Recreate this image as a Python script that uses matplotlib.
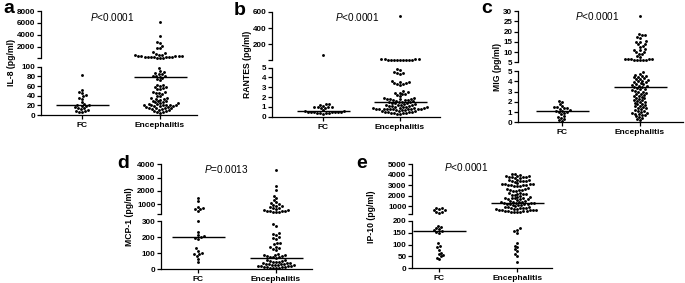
import matplotlib
matplotlib.use("Agg")
import matplotlib.pyplot as plt
import numpy as np

plt.rcParams['font.family'] = 'Liberation Sans'
plt.rcParams['mathtext.fontset'] = 'custom'
plt.rcParams['mathtext.it'] = 'Liberation Sans:italic'
plt.rcParams['mathtext.rm'] = 'Liberation Sans'

GROUPS = ['FC', 'Encephalitis']

# a: IL-8
IL8_FC = [83, 52, 48, 45, 41, 39, 36, 33, 26, 23, 21, 20, 19, 18, 16, 15, 14, 12, 11, 9, 8, 7, 6]
IL8_ENC = [6100, 3900, 2900, 2700, 2100, 1900, 1750, 1100, 950, 900,
           700, 640, 590, 545, 505, 470, 440, 410, 385, 360, 335, 310, 285, 260, 235,
           210, 185, 160,
           97, 91, 89, 86, 85, 84, 81, 80, 80, 79, 76, 74, 72, 63, 62, 61, 58, 57, 56,
           54, 53, 48, 47, 46, 45, 44, 40, 39, 36, 35, 34, 33, 32, 30, 29, 28, 27, 26,
           25, 24, 22.5, 22, 21.5, 21, 21, 20.5, 20, 20, 19.5, 19, 18.5,
           16.5, 16, 15.5, 15, 14, 13.5, 13, 12, 11, 10, 9, 8, 7, 6, 5]
# b: RANTES
RANTES_FC = [65, 1.3, 1.25, 1.2, 1.1, 1.0, 1.0, 0.95, 0.95, 0.9, 0.9, 0.7, 0.6, 0.55,
             0.5, 0.5, 0.48, 0.47, 0.45, 0.45, 0.43, 0.42, 0.4, 0.38, 0.35, 0.32]
RANTES_ENC = [550, 13, 12.5, 12, 11.5, 11, 10.5, 10, 9.5, 9, 8.5, 8.2, 8, 7.8,
              4.9, 4.8, 4.6, 4.5, 4.45, 4.4,
              3.6, 3.55, 3.5, 3.45, 3.4, 3.35, 3.3, 3.2,
              2.6, 2.5, 2.45, 2.4, 2.35, 2.3, 2.2, 2.1,
              1.9, 1.88, 1.85, 1.82, 1.8, 1.78, 1.75, 1.72, 1.7, 1.65,
              1.6, 1.55, 1.5, 1.48, 1.45, 1.42, 1.4, 1.35, 1.3,
              1.25, 1.22, 1.2, 1.18, 1.15, 1.12, 1.1, 1.05, 1.02, 1.0,
              0.98, 0.95, 0.92, 0.9, 0.88,
              0.84, 0.83, 0.82, 0.8, 0.8, 0.79, 0.78, 0.77, 0.76, 0.75, 0.74, 0.72, 0.7, 0.68,
              0.6, 0.58, 0.55, 0.52, 0.5, 0.48, 0.45, 0.42, 0.4, 0.38, 0.35, 0.32, 0.3]
# c: MIG
MIG_FC = [2.1, 2.0, 1.8, 1.6, 1.5, 1.45, 1.4, 1.35, 1.3, 1.2, 1.15, 1.1, 1.05, 1.0,
          0.9, 0.8, 0.6, 0.5, 0.4, 0.3, 0.2, 0.1]
MIG_ENC = [27.5, 18.6, 18.4, 18.2, 17.3, 17.0, 15.3, 15.1, 14.9, 14.0, 13.8, 12.8, 12.5,
           11.5, 11.2, 11.0, 10.2, 10.0, 9.2, 9.0, 8.0, 7.8, 6.6, 6.5, 6.5, 6.4, 6.4,
           6.3, 6.3, 6.2, 6.2, 6.1,
           4.9, 4.75, 4.65, 4.55, 4.5, 4.45, 4.4, 4.3, 4.25, 4.2, 4.1, 4.05, 4.0, 3.95,
           3.9, 3.8, 3.75, 3.7, 3.6, 3.55, 3.5, 3.45, 3.4, 3.3, 3.25, 3.2, 3.1, 3.05,
           3.0, 2.95, 2.9, 2.8, 2.75, 2.7, 2.6, 2.55, 2.5, 2.4, 2.35, 2.3, 2.2, 2.15,
           2.1, 2.0, 1.95, 1.9, 1.8, 1.75, 1.7, 1.6, 1.55, 1.5, 1.4, 1.35, 1.3, 1.2,
           1.15, 1.1, 1.0, 0.95, 0.9, 0.85, 0.8, 0.75, 0.7, 0.6, 0.5, 0.4, 0.3, 0.2]
# d: MCP-1
MCP_FC = [1500, 1250, 800, 750, 680, 620, 520, 300, 230, 210, 205, 200, 196, 190,
          130, 115, 100, 96, 92, 82, 65, 45]
MCP_ENC = [3550, 2350, 2050, 1600, 1450, 1350, 1200, 1100, 1000, 950, 900, 850, 800,
           750, 700, 650, 600, 560, 520, 500, 480, 460, 440, 420, 400,
           280, 270, 225, 220, 215, 200, 195, 190, 165, 160, 155, 140, 135, 130, 125,
           120, 95, 90, 88, 85, 82, 80, 78, 75, 72, 70,
           58, 55, 52, 49, 46, 44, 42, 40, 38, 36, 34, 32, 30, 28.5, 27, 25.5, 24,
           22.5, 21, 19.5, 18, 16.5, 15, 13.5, 12, 10.5, 9, 7.5, 6, 4.5]
# e: IP-10
IP10_FC = [850, 800, 750, 650, 600, 500, 450, 400, 178, 175, 168, 165, 160, 155, 152,
           150, 105, 95, 88, 78, 65, 60, 55, 50, 45, 38]
IP10_ENC = [4100, 4050, 4000,
            3900, 3850, 3850, 3800, 3800, 3780, 3750, 3720, 3700,
            3550, 3500, 3480, 3450, 3420, 3400, 3380, 3350,
            3200, 3150, 3120, 3100, 3080, 3050, 3020, 3000, 2980, 2950, 2920, 2900,
            2700, 2650, 2600, 2580, 2550, 2520, 2500, 2480,
            2300, 2250, 2200, 2180, 2150, 2100, 2050, 2000,
            1900, 1850, 1820, 1800, 1780, 1750, 1700, 1680, 1650, 1600,
            1500, 1480, 1450, 1420, 1400, 1380, 1350, 1320, 1300, 1280, 1250, 1220,
            1200, 1180, 1150, 1120, 1100,
            1000, 970, 940, 910, 880, 850, 820, 790, 760, 730, 700, 680, 660, 640, 620,
            600, 580, 560, 540, 520, 500, 480, 460, 440,
            168, 163, 155, 150, 105, 95, 88, 80, 72, 58, 52, 25]

MEDIANS = {'a': [20, 78], 'b': [0.6, 1.55], 'c': [1.15, 3.45], 'd': [200, 67], 'e': [155, 1300]}

W, H = 685, 283
DOT = 3.1  # dot spacing in pixels
fig = plt.figure(figsize=(W / 100, H / 100), dpi=100)


def rect(x0, x1, ytop, ybot):
    return [x0 / W, 1 - ybot / H, (x1 - x0) / W, (ybot - ytop) / H]


def swarm(ypix, d):
    # simple beeswarm: each point goes as close to the centre as it can
    xs = np.zeros(len(ypix))
    placed = []
    for i in np.argsort(ypix, kind='stable'):
        y = ypix[i]
        near = [(px, py) for px, py in placed if abs(py - y) < d]
        cands = [0.0]
        for px, py in near:
            dx = np.sqrt(d * d - (py - y) ** 2)
            cands += [px - dx, px + dx]
        cands.sort(key=abs)
        for c in cands:
            if all((c - px) ** 2 + (y - py) ** 2 >= d * d - 1e-6 for px, py in near):
                xs[i] = c
                break
        placed.append((xs[i], y))
    return xs


def style(ax, lower):
    for s in ['top', 'right']:
        ax.spines[s].set_visible(False)
    ax.spines['left'].set_linewidth(0.9)
    ax.spines['bottom'].set_linewidth(0.9)
    ax.tick_params(axis='y', length=3, width=0.9, pad=1, labelsize=5.8)
    if lower:
        ax.tick_params(axis='x', length=3, width=0.9, pad=2, labelsize=6)
    else:
        ax.spines['bottom'].set_visible(False)
        ax.set_xticks([])
    for t in ax.get_yticklabels() + ax.get_xticklabels():
        t.set_fontweight('bold')


def panel(letter, ylabel, ptext, fc, enc, x0, x1, xfc, xenc, up_box, lo_box,
          up_lim, lo_lim, up_ticks, up_labels, lo_ticks, lab_x, let_xy, p_xy):
    ppu = xenc - xfc
    xlim = ((x0 - xfc) / ppu, 1 + (x1 - xenc) / ppu)
    ax_u = fig.add_axes(rect(x0, x1, *up_box))
    ax_l = fig.add_axes(rect(x0, x1, *lo_box))
    ax_u.set_ylim(*up_lim)
    ax_l.set_ylim(*lo_lim)
    for ax in (ax_u, ax_l):
        ax.set_xlim(*xlim)
    ax_u.set_yticks(up_ticks)
    ax_u.set_yticklabels(up_labels)
    ax_l.set_yticks(lo_ticks)
    ax_l.set_xticks([0, 1])
    ax_l.set_xticklabels(GROUPS)
    style(ax_u, False)
    style(ax_l, True)

    for gi, vals in enumerate([fc, enc]):
        vals = np.asarray(vals, dtype=float)
        for ax, mask in ((ax_l, vals <= lo_lim[1]), (ax_u, vals > lo_lim[1])):
            v = vals[mask]
            if len(v) == 0:
                continue
            ypix = ax.transData.transform(np.column_stack([np.zeros(len(v)), v]))[:, 1]
            off = swarm(ypix, DOT)
            ax.scatter(gi + off / ppu, v, s=4.3, c='black', marker='o',
                       linewidths=0, clip_on=False, zorder=3)
        med = MEDIANS[letter][gi]
        ax = ax_l if med <= lo_lim[1] else ax_u
        hw = 26.5 / ppu
        ax.hlines(med, gi - hw, gi + hw, color='black', lw=1.0, zorder=4)

    ymid = (up_box[0] + lo_box[1]) / 2
    fig.text(lab_x / W, 1 - ymid / H, ylabel, rotation=90, ha='center', va='center',
             fontsize=6.2, fontweight='bold')
    fig.text(let_xy[0] / W, 1 - let_xy[1] / H, letter, ha='left', va='baseline',
             fontsize=14, fontweight='bold')
    fig.text(p_xy[0] / W, 1 - p_xy[1] / H, ptext, ha='center', va='center', fontsize=7.2)


panel('a', 'IL-8 (pg/ml)', r'$P$<0.0001', IL8_FC, IL8_ENC,
      41, 197, 82, 160, (11, 58.3), (66.7, 115), (100, 8000), (0, 100),
      [100, 2000, 4000, 6000, 8000], ['', '2000', '4000', '6000', '8000'],
      [0, 20, 40, 60, 80, 100], 12, (3, 13), (112, 17))

panel('b', 'RANTES (pg/ml)', r'$P$<0.0001', RANTES_FC, RANTES_ENC,
      272, 440, 323, 400, (12, 60), (67.7, 116.7), (5, 600), (0, 5),
      [5, 200, 400, 600], ['', '200', '400', '600'],
      [0, 1, 2, 3, 4, 5], 247, (234, 15), (357, 17))

panel('c', 'MIG (pg/ml)', r'$P$<0.0001', MIG_FC, MIG_ENC,
      518, 683, 562, 640, (11, 62.3), (71, 122.3), (5, 30), (0, 5),
      [5, 10, 15, 20, 25, 30], ['5', '10', '15', '20', '25', '30'],
      [0, 1, 2, 3, 4, 5], 497, (481, 13), (597, 16))

panel('d', 'MCP-1 (pg/ml)', r'$P$=0.0013', MCP_FC, MCP_ENC,
      161, 312, 198, 276, (164.3, 213.6), (221, 269), (300, 4000), (0, 300),
      [300, 1000, 2000, 3000, 4000], ['', '1000', '2000', '3000', '4000'],
      [0, 100, 200, 300], 130, (117, 168), (226, 169))

panel('e', 'IP-10 (pg/ml)', r'$P$<0.0001', IP10_FC, IP10_ENC,
      412, 552, 439.3, 517.3, (164.3, 213.6), (220.7, 268.3), (300, 5000), (0, 200),
      [300, 1000, 2000, 3000, 4000, 5000], ['', '1000', '2000', '3000', '4000', '5000'],
      [0, 50, 100, 150, 200], 372, (356, 168), (466, 167))

fig.savefig('out.png', dpi=100)
